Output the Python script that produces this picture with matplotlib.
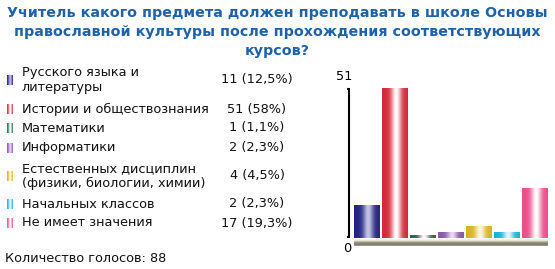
import numpy as np
import matplotlib
matplotlib.use('Agg')
import matplotlib.pyplot as plt
from matplotlib.colors import to_rgb

# poll data
title_lines = ['Учитель какого предмета должен преподавать в школе Основы',
               'православной культуры после прохождения соответствующих',
               'курсов?']
labels = ['Русского языка и\nлитературы',
          'Истории и обществознания',
          'Математики',
          'Информатики',
          'Естественных дисциплин\n(физики, биологии, химии)',
          'Начальных классов',
          'Не имеет значения']
votes = [11, 51, 1, 2, 4, 2, 17]
percents = ['12,5', '58', '1,1', '2,3', '4,5', '2,3', '19,3']
total_votes = 88

edge_colors = ['#25257f', '#d42a3a', '#1e6e50', '#8a5aa8', '#d8b428', '#18b4e0', '#e8508a']
mid_colors = ['#c4c4e4', '#ffffff', '#ffffff', '#ead8f2', '#fff8e0', '#eaf8ff', '#ffffff']

W, H = 555, 269
fig = plt.figure(figsize=(W / 100, H / 100), dpi=100)
fig.patch.set_facecolor('white')

# overlay axes in pixel coordinates (y down)
ov = fig.add_axes([0, 0, 1, 1])
ov.set_xlim(0, W)
ov.set_ylim(H, 0)
ov.axis('off')


def hgrad(edge, mid, n=64, spread=0.2):
    t = np.linspace(0, 1, n)
    k = np.exp(-((t - 0.55) / spread) ** 2)
    e = np.array(to_rgb(edge))
    m = np.array(to_rgb(mid))
    return (e[None, :] * (1 - k)[:, None] + m[None, :] * k[:, None])[None, :, :]


# title
title_color = '#1f62a8'
for i, line in enumerate(title_lines):
    ov.text(277, 13 + 19 * i, line, ha='center', va='center', fontsize=10.3,
            fontweight='bold', color=title_color, family='DejaVu Sans')

# legend rows
fs = 9.3
row_y = [80, 109, 128, 148, 176, 204, 223]
for y, lab, v, p, ec, mc in zip(row_y, labels, votes, percents, edge_colors, mid_colors):
    ov.imshow(hgrad(ec, mc, 32, 0.3), extent=[6.5, 12.5, y + 5, y - 5], aspect='auto',
              interpolation='bilinear', zorder=2)
    ov.text(22, y, lab, ha='left', va='center', fontsize=fs, color='#111111',
            linespacing=1.15)
    ov.text(257, y, '%d (%s%%)' % (v, p), ha='center', va='center', fontsize=fs,
            color='#111111')

ov.text(5, 258, 'Количество голосов: %d' % total_votes, ha='left', va='center',
        fontsize=fs, color='#111111')

# bar chart axes: x 354..548 px, y 88..237.7 px
x0, x1 = 354, 548
ytop, ybot = 88, 237.7
ax = fig.add_axes([x0 / W, 1 - ybot / H, (x1 - x0) / W, (ybot - ytop) / H])
ax.axis('off')
bw = 26 / 28
bars = ax.bar(np.arange(len(votes)), votes, width=bw, align='edge', color='none')
for rect, ec, mc in zip(bars, edge_colors, mid_colors):
    bx, by = rect.get_xy()
    ax.imshow(hgrad(ec, mc), extent=[bx, bx + rect.get_width(), by, by + rect.get_height()],
              aspect='auto', interpolation='bilinear', zorder=2)
ax.set_xlim(0, len(votes) - 1 + bw)
ax.set_ylim(0, max(votes))

# value axis bracket
ov.plot([349, 349], [88.5, 236.5], color='black', lw=1.5, solid_capstyle='butt')
ov.plot([346.5, 349.7], [88.5, 88.5], color='black', lw=1.5, solid_capstyle='butt')
ov.plot([346.5, 349.7], [236.5, 236.5], color='black', lw=1.5, solid_capstyle='butt')
ov.text(344, 77, str(max(votes)), ha='center', va='center', fontsize=fs, color='black')
ov.text(347, 249, '0', ha='center', va='center', fontsize=fs, color='black')

# floor strip under the bars
fl = np.array([to_rgb(c) for c in ['#f6f2dc', '#e8e4cc', '#a8a694', '#8a8878', '#7c7a6c', '#9a988a']])
ov.imshow(fl[:, None, :], extent=[x0, x1, 246.5, 240], aspect='auto',
          interpolation='bilinear', zorder=2)

ov.set_xlim(0, W)
ov.set_ylim(H, 0)
fig.savefig('out.png', dpi=100, facecolor='white')
